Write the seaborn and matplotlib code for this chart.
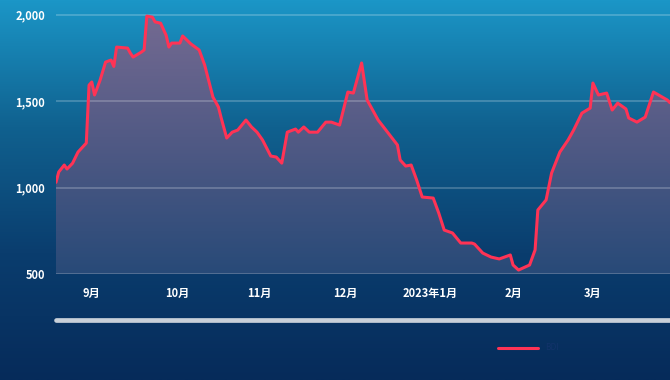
import numpy as np
import pandas as pd
import matplotlib.pyplot as plt
import matplotlib.dates as mdates
from matplotlib.colors import LinearSegmentedColormap
from matplotlib.lines import Line2D
from matplotlib.ticker import StrMethodFormatter
import seaborn as sns

# Dados (BDI, set/2022 - abr/2023)
dates = [
    "2022-09-02", "2022-09-03", "2022-09-05", "2022-09-06", "2022-09-08", "2022-09-10",
    "2022-09-13", "2022-09-14", "2022-09-15", "2022-09-16", "2022-09-18", "2022-09-20",
    "2022-09-22", "2022-09-23", "2022-09-24", "2022-09-28", "2022-09-29", "2022-09-30",
    "2022-10-03", "2022-10-04", "2022-10-05", "2022-10-07", "2022-10-08", "2022-10-10",
    "2022-10-12", "2022-10-13", "2022-10-14", "2022-10-17", "2022-10-18", "2022-10-21",
    "2022-10-24", "2022-10-26", "2022-10-29", "2022-10-31", "2022-11-01", "2022-11-03",
    "2022-11-05", "2022-11-07", "2022-11-10", "2022-11-12", "2022-11-14", "2022-11-16",
    "2022-11-19", "2022-11-21", "2022-11-23", "2022-11-25", "2022-11-28", "2022-11-29",
    "2022-12-01", "2022-12-03", "2022-12-06", "2022-12-09", "2022-12-11", "2022-12-14",
    "2022-12-17", "2022-12-19", "2022-12-22", "2022-12-24", "2022-12-28", "2023-01-04",
    "2023-01-05", "2023-01-07", "2023-01-09", "2023-01-11", "2023-01-13", "2023-01-17",
    "2023-01-19", "2023-01-21", "2023-01-24", "2023-01-27", "2023-01-31", "2023-02-01",
    "2023-02-04", "2023-02-07", "2023-02-10", "2023-02-14", "2023-02-15", "2023-02-17",
    "2023-02-21", "2023-02-23", "2023-02-24", "2023-02-27", "2023-03-01", "2023-03-04",
    "2023-03-07", "2023-03-09", "2023-03-12", "2023-03-15", "2023-03-16", "2023-03-18",
    "2023-03-21", "2023-03-23", "2023-03-25", "2023-03-28", "2023-03-29", "2023-04-01",
    "2023-04-04", "2023-04-07", "2023-04-12", "2023-04-13",
]
bdi = [
    1030, 1090, 1130, 1107, 1140, 1205,
    1257, 1592, 1610, 1535, 1620, 1725,
    1737, 1700, 1812, 1806, 1777, 1754,
    1783, 1795, 1991, 1985, 1957, 1950,
    1880, 1812, 1835, 1835, 1876, 1830,
    1795, 1708, 1523, 1465, 1402, 1286,
    1320, 1332, 1390, 1350, 1320, 1275,
    1182, 1176, 1141, 1320, 1338, 1320,
    1350, 1320, 1320, 1378, 1378, 1361,
    1552, 1546, 1720, 1506, 1390, 1246,
    1159, 1124, 1130, 1043, 945, 939,
    853, 754, 737, 679, 679, 673,
    621, 598, 587, 610, 552, 523,
    552, 639, 870, 928, 1084, 1205,
    1275, 1332, 1430, 1459, 1604, 1535,
    1546, 1448, 1488, 1454, 1402, 1378,
    1407, 1552, 1506, 1490,
]
tick_dates = ["2022-09-15", "2022-10-16", "2022-11-15", "2022-12-16",
              "2023-01-16", "2023-02-15", "2023-03-16"]
tick_labels = ["9月", "10月", "11月", "12月", "2023年1月", "2月", "3月"]
y_ticks = [500, 1000, 1500, 2000]

sns.set_style("white")
plt.rcParams['font.family'] = ['Noto Sans CJK SC', 'DejaVu Sans']

df = pd.DataFrame({"date": pd.to_datetime(dates), "BDI": bdi})

fig = plt.figure(figsize=(6.7, 3.8), dpi=100)

# Fundo em degradê (azul claro em cima, azul-marinho embaixo)
bg = fig.add_axes([0, 0, 1, 1], zorder=0)
bg_cmap = LinearSegmentedColormap.from_list("bg", ["#1b96c7", "#10618f", "#0a3d6e", "#062b5a"])
bg.imshow(np.linspace(0, 1, 256).reshape(-1, 1), aspect='auto', cmap=bg_cmap, extent=[0, 1, 0, 1])
bg.set_axis_off()

ax = fig.add_axes([56 / 670, (380 - 274) / 380, 1 - 56 / 670, 274 / 380], zorder=1)
ax.patch.set_alpha(0)

x0, x1 = mdates.date2num(df["date"].iloc[0]), mdates.date2num(df["date"].iloc[-1])
ax.set_xlim(x0, x1)
ax.set_ylim(500, 2084)

# Área sob a curva com degradê recortado pelo polígono
poly = ax.fill_between(df["date"], df["BDI"], 500, color='none', lw=0)
fill_cmap = LinearSegmentedColormap.from_list("fill", ["#786c93", "#525a85", "#284a78"])
im = ax.imshow(np.linspace(0, 1, 256).reshape(-1, 1), aspect='auto', cmap=fill_cmap,
               extent=[x0, x1, 500, 2084], zorder=1)
im.set_clip_path(poly.get_paths()[0], transform=ax.transData)

sns.lineplot(data=df, x="date", y="BDI", color="#ff3355", linewidth=2.2, ax=ax, legend=False, zorder=3)

ax.set_xlim(x0, x1)
ax.set_ylim(500, 2084)
ax.set_yticks(y_ticks)
ax.yaxis.set_major_formatter(StrMethodFormatter('{x:,.0f}'))
ax.set_xticks(mdates.date2num(pd.to_datetime(tick_dates)))
ax.set_xticklabels(tick_labels)
# Grade por cima da área, mas abaixo da linha
ax.set_axisbelow(False)
ax.grid(axis='y', color='white', alpha=0.22, linewidth=1.3)
ax.grid(axis='x', visible=False)
ax.tick_params(axis='y', length=0, pad=8, labelsize=8, labelcolor='white')
ax.tick_params(axis='x', length=0, pad=9, labelsize=8, labelcolor='white')
for lbl in ax.get_xticklabels() + ax.get_yticklabels():
    lbl.set_fontweight('bold')
ax.set_xlabel('')
ax.set_ylabel('')
for s in ax.spines.values():
    s.set_visible(False)

# Barra cinza clara (barra de rolagem)
fig.add_artist(Line2D([56 / 670, 1], [1 - 320 / 380] * 2, color='#c8d0d9', lw=3.4, zorder=2))

# Legenda manual
fig.add_artist(Line2D([498 / 670, 538 / 670], [1 - 348 / 380] * 2, color='#ff3355', lw=2.2, zorder=2))
fig.text(545 / 670, 1 - 348 / 380, "BDI", color='#12336a', fontsize=6, va='center', ha='left', zorder=2)

fig.savefig("out.png", dpi=100)
